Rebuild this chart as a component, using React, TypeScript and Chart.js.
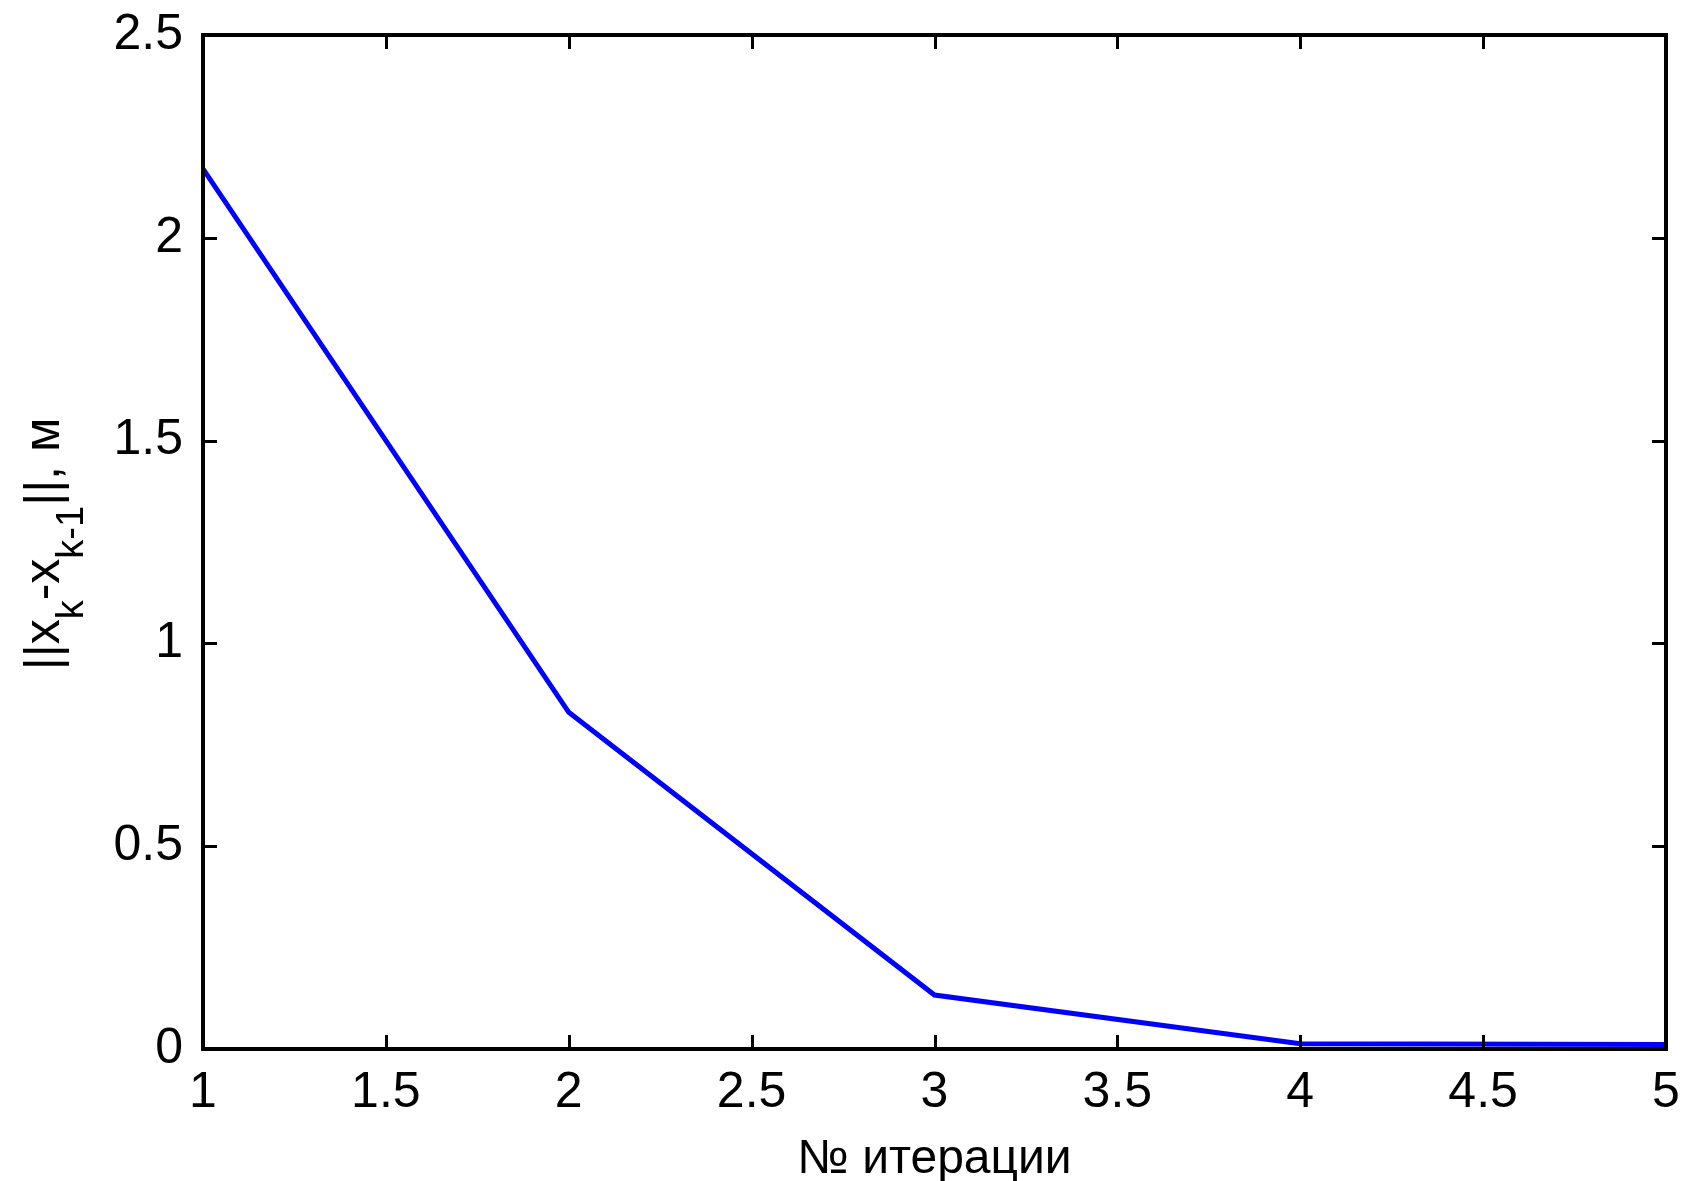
import React, { useEffect, useRef } from "react";
import { Chart, registerables } from "chart.js";

Chart.register(...registerables);

const iterations = [1, 2, 3, 4, 5];
const normDiff = [2.17, 0.83, 0.133, 0.013, 0.011];
const xTicks = [1, 1.5, 2, 2.5, 3, 3.5, 4, 4.5, 5];
const yTicks = [0, 0.5, 1, 1.5, 2, 2.5];
const xTitle = "№ итерации";
const yTitleParts = [
  { t: "||x", sub: false },
  { t: "k", sub: true },
  { t: "-x", sub: false },
  { t: "k-1", sub: true },
  { t: "||, м", sub: false },
];

const FONT = "Liberation Sans, Arial, sans-serif";

const framePlugin = {
  id: "frame",
  afterDatasetsDraw(chart: any) {
    const { ctx, chartArea: a, scales } = chart;
    const xs = scales.x;
    const ys = scales.y;
    ctx.save();
    ctx.strokeStyle = "#000";
    ctx.lineWidth = 3;
    const tl = 14;
    ctx.beginPath();
    for (const v of xTicks) {
      const px = Math.round(xs.getPixelForValue(v)) + 0.5;
      ctx.moveTo(px, a.bottom);
      ctx.lineTo(px, a.bottom - tl);
      ctx.moveTo(px, a.top);
      ctx.lineTo(px, a.top + tl);
    }
    for (const v of yTicks) {
      const py = Math.round(ys.getPixelForValue(v)) + 0.5;
      ctx.moveTo(a.left, py);
      ctx.lineTo(a.left + tl, py);
      ctx.moveTo(a.right, py);
      ctx.lineTo(a.right - tl, py);
    }
    ctx.stroke();
    ctx.lineWidth = 4;
    ctx.strokeRect(a.left, a.top, a.right - a.left, a.bottom - a.top);
    ctx.restore();
  },
  afterDraw(chart: any) {
    const { ctx } = chart;
    ctx.save();
    const mainF = `50px ${FONT}`;
    const subF = `38px ${FONT}`;
    let total = 0;
    for (const p of yTitleParts) {
      ctx.font = p.sub ? subF : mainF;
      total += ctx.measureText(p.t).width;
    }
    const cy = 544;
    const baseX = 59;
    ctx.translate(baseX, cy);
    ctx.rotate(-Math.PI / 2);
    ctx.fillStyle = "#000";
    ctx.textBaseline = "alphabetic";
    ctx.textAlign = "left";
    let x = -total / 2;
    for (const p of yTitleParts) {
      ctx.font = p.sub ? subF : mainF;
      ctx.fillText(p.t, x, p.sub ? 24 : 0);
      x += ctx.measureText(p.t).width;
    }
    ctx.restore();
  },
};

export default function App() {
  const ref = useRef<HTMLCanvasElement>(null);
  useEffect(() => {
    if (!ref.current) return;
    const chart = new Chart(ref.current, {
      type: "line",
      data: {
        datasets: [
          {
            data: iterations.map((x, i) => ({ x, y: normDiff[i] })),
            borderColor: "#0000ff",
            borderWidth: 5,
            pointRadius: 0,
            tension: 0,
            fill: false,
          },
        ],
      },
      options: {
        animation: false,
        responsive: false,
        devicePixelRatio: 1,
        layout: { padding: { top: 35, right: 19, left: 0, bottom: 0 } },
        plugins: { legend: { display: false }, tooltip: { enabled: false } },
        scales: {
          x: {
            type: "linear",
            min: 1,
            max: 5,
            afterBuildTicks: (s: any) => {
              s.ticks = xTicks.map((v) => ({ value: v }));
            },
            afterFit: (s: any) => {
              s.height = 132;
              s.paddingLeft = 0;
              s.paddingRight = 0;
            },
            grid: { display: false, drawTicks: false },
            border: { display: false },
            ticks: {
              color: "#000",
              font: { family: FONT, size: 50 },
              padding: 14,
              maxRotation: 0,
              autoSkip: false,
              callback: (v: any) => String(v),
            },
            title: {
              display: true,
              text: xTitle,
              color: "#000",
              font: { family: FONT, size: 48 },
              padding: { top: 8, bottom: -8 },
            },
          },
          y: {
            type: "linear",
            min: 0,
            max: 2.5,
            afterBuildTicks: (s: any) => {
              s.ticks = yTicks.map((v) => ({ value: v }));
            },
            afterFit: (s: any) => {
              s.width = 203;
              s.paddingTop = 0;
              s.paddingBottom = 0;
            },
            grid: { display: false, drawTicks: false },
            border: { display: false },
            ticks: {
              color: "#000",
              font: { family: FONT, size: 50 },
              padding: 20,
              autoSkip: false,
              callback: (v: any) => String(v),
            },
          },
        },
      },
      plugins: [framePlugin],
    });
    return () => chart.destroy();
  }, []);
  return (
    <div style={{ position: "absolute", left: 0, top: 0, width: 1685, height: 1181, background: "#fff" }}>
      <canvas ref={ref} width={1685} height={1181} style={{ display: "block" }} />
    </div>
  );
}
